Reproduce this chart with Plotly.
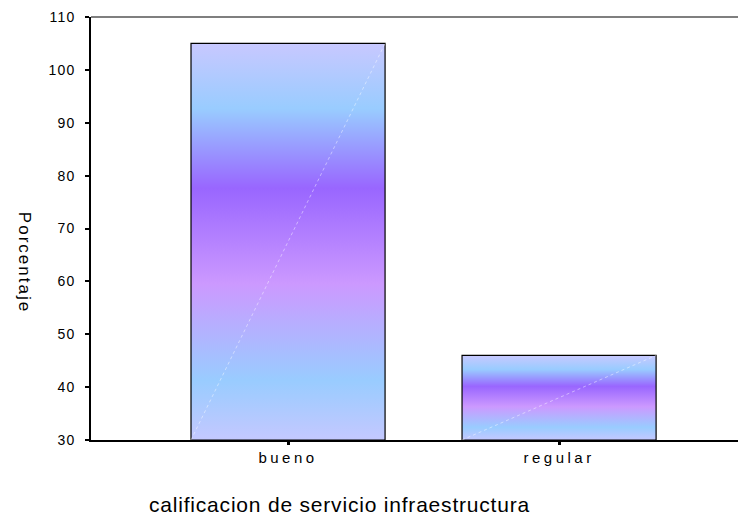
import plotly.graph_objects as go

# ---- data ----
categories = ["bueno", "regular"]
porcentaje = [105, 46]
y_tick_values = [30, 40, 50, 60, 70, 80, 90, 100, 110]
x_title = "calificacion de servicio infraestructura"
y_title = "Porcentaje"

AXIS_MIN = 30
AXIS_MAX = 110
BAR_W = 0.716

grad_svg = (
    "data:image/svg+xml;utf8,"
    "<svg xmlns='http://www.w3.org/2000/svg' width='100' height='100' viewBox='0 0 100 100' preserveAspectRatio='none'>"
    "<defs><linearGradient id='g' x1='0' y1='0' x2='0' y2='1'>"
    "<stop offset='0' stop-color='%23c8c8ff'/>"
    "<stop offset='0.165' stop-color='%2399ccff'/>"
    "<stop offset='0.365' stop-color='%239966ff'/>"
    "<stop offset='0.607' stop-color='%23cc99ff'/>"
    "<stop offset='0.85' stop-color='%2399ccff'/>"
    "<stop offset='1' stop-color='%23c4c8ff'/>"
    "</linearGradient></defs>"
    "<rect x='0' y='0' width='100' height='100' fill='url(%23g)'/></svg>"
)

xs = list(range(len(categories)))

def spaced(t, px):
    return f"<span style='letter-spacing:{px}px'>{t}</span>"

fig = go.Figure()
fig.add_trace(go.Bar(
    x=xs, y=[v - AXIS_MIN for v in porcentaje], base=AXIS_MIN, width=BAR_W,
    marker=dict(color="rgba(0,0,0,0)", line=dict(color="black", width=1.2)),
    hoverinfo="skip", showlegend=False,
))

images = []
shapes = []
for xi, v in zip(xs, porcentaje):
    images.append(dict(
        source=grad_svg, xref="x", yref="y",
        x=xi - BAR_W / 2, y=v, sizex=BAR_W, sizey=v - AXIS_MIN,
        sizing="stretch", layer="below", xanchor="left", yanchor="top",
    ))
    shapes.append(dict(
        type="line", xref="x", yref="y",
        x0=xi - BAR_W / 2, y0=AXIS_MIN, x1=xi + BAR_W / 2, y1=v,
        line=dict(color="rgba(255,255,255,0.45)", width=1, dash="dot"),
        layer="above",
    ))
shapes.append(dict(type="line", xref="paper", yref="paper", x0=0, x1=1, y0=1, y1=1,
                   line=dict(color="#555555", width=1.5)))

fig.update_layout(
    width=738, height=515,
    margin=dict(l=83, r=1, t=7, b=83),
    paper_bgcolor="white", plot_bgcolor="white",
    font=dict(family="Liberation Sans, Arial, sans-serif", color="black", size=13),
    images=images, shapes=shapes,
    xaxis=dict(
        range=[-0.727, 1.686], tickvals=xs,
        ticktext=[spaced(c, 3.5) for c in categories],
        tickfont=dict(size=15),
        showgrid=False, zeroline=False,
        showline=True, linecolor="black", linewidth=1.5,
        ticks="outside", ticklen=3, tickwidth=3, tickcolor="black",
        ticklabelstandoff=0,
    ),
    yaxis=dict(
        range=[AXIS_MIN, AXIS_MAX], tickvals=y_tick_values,
        ticktext=[spaced(str(t), 1.2) for t in y_tick_values],
        tickfont=dict(size=14),
        showgrid=False, zeroline=False,
        showline=True, linecolor="black", linewidth=1.5,
        ticks="outside", ticklen=4, tickwidth=2, tickcolor="black",
        ticklabelstandoff=7, ticklabeloverflow="allow",
    ),
    annotations=[
        dict(text=spaced(x_title, 0.8), xref="paper", yref="paper",
             x=(147 - 91) / 654, y=-(505 - 440) / 425, xanchor="left", yanchor="middle",
             showarrow=False, font=dict(size=21)),
        dict(text=spaced(y_title, 2), xref="paper", yref="paper",
             x=-(67) / 654, y=(440 - 261) / 425, xanchor="center", yanchor="middle",
             textangle=90, showarrow=False, font=dict(size=17)),
    ],
)

fig.write_html("out.html")
